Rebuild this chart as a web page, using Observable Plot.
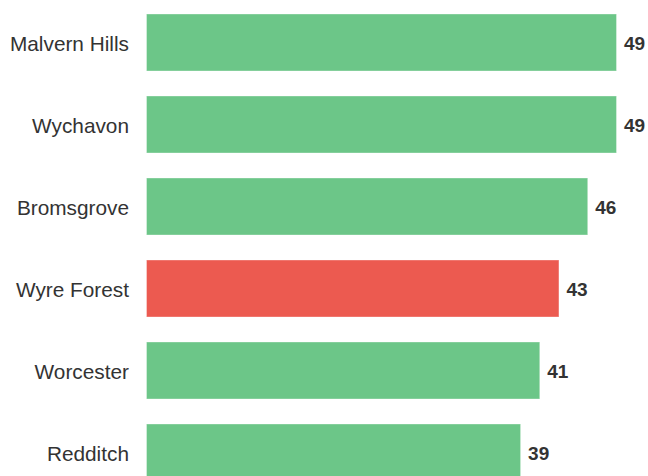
<!DOCTYPE html>
<html>
<head>
<meta charset="utf-8">
<script src="https://cdn.jsdelivr.net/npm/d3@7"></script>
<script src="https://cdn.jsdelivr.net/npm/@observablehq/plot@0.6"></script>
<style>
  html, body { margin: 0; padding: 0; background: #fff; overflow: hidden; }
  #chart svg { display: block; }
</style>
</head>
<body>
<div id="chart"></div>
<script>
const districts = ["Malvern Hills", "Wychavon", "Bromsgrove", "Wyre Forest", "Worcester", "Redditch"];
const values = [49, 49, 46, 43, 41, 39];
const highlighted = ["Wyre Forest"];

const data = districts.map((d, i) => ({district: d, value: values[i], hi: highlighted.includes(d)}));

const chart = Plot.plot({
  width: 648,
  height: 476,
  marginLeft: 146.5,
  marginRight: 31.5,
  marginTop: 0,
  marginBottom: 0,
  style: {fontFamily: "'Liberation Sans', Arial, sans-serif", background: "#fff"},
  x: {domain: [0, 49], axis: null},
  y: {domain: districts, range: [0, 494.6], paddingInner: 0.307, paddingOuter: 0.162, label: null},
  marks: [
    Plot.barX(data, {
      y: "district",
      x: "value",
      fill: d => d.hi ? "#EC5A50" : "#6CC688",
      stroke: "white",
      strokeOpacity: 0.35,
      strokeWidth: 1
    }),
    Plot.text(data, {
      y: "district",
      x: "value",
      text: d => String(d.value),
      textAnchor: "start",
      dx: 7,
      dy: 1,
      fontSize: 19,
      fontWeight: "bold",
      fill: "#333"
    }),
    Plot.axisY({tickSize: 0, tickPadding: 18, fontSize: 20.8, label: null, color: "#333", dy: 1.5})
  ]
});
document.getElementById("chart").appendChild(chart);
</script>
</body>
</html>
